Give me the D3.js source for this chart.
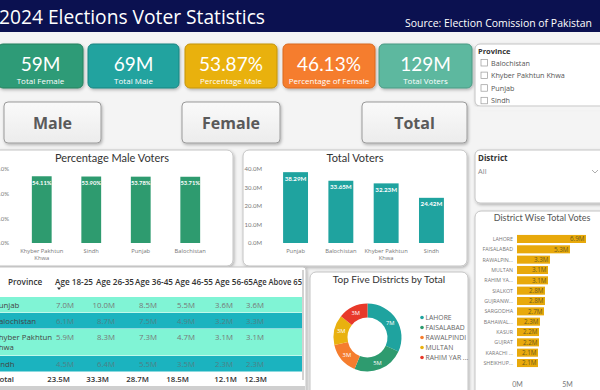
<!DOCTYPE html>
<html><head><meta charset="utf-8">
<script src="https://cdn.jsdelivr.net/npm/d3@7"></script>
<style>
html,body{margin:0;padding:0;background:#f4f4f4;overflow:hidden}
svg{display:block}
</style></head><body>
<svg id="c" width="600" height="390"></svg>
<script>
// ---------------- DATA ----------------
const kpiValues = [59, 69, 53.87, 46.13, 129];
const kpiUnits = ["M", "M", "%", "%", "M"];
const kpiLabels = ["Total Female", "Total Male", "Percentage Male", "Percentage of Female", "Total Voters"];
const buttonLabels = ["Male", "Female", "Total"];
const provinceOptions = ["Balochistan", "Khyber Pakhtun Khwa", "Punjab", "Sindh"];

const pctMaleProvinces = ["Khyber Pakhtun Khwa", "Sindh", "Punjab", "Balochistan"];
const pctMaleValues = [54.11, 53.90, 53.78, 53.71];
const pctTicks = [0, 20, 40, 60];

const totalProvinces = ["Punjab", "Balochistan", "Khyber Pakhtun Khwa", "Sindh"];
const totalValues = [38.29, 33.65, 32.23, 24.42];
const totalTicks = [0, 10, 20, 30, 40];

const districts = ["LAHORE", "FAISALABAD", "RAWALPIN...", "MULTAN", "RAHIM YA...", "SIALKOT", "GUJRANW...", "SARGODHA", "BAHAWAL...", "KASUR", "GUJRAT", "KARACHI ...", "SHEIKHUP..."];
const districtValues = [6.9, 5.3, 3.3, 3.1, 3.1, 2.8, 2.8, 2.7, 2.3, 2.2, 2.2, 2.1, 2.1];
const districtTicks = [0, 5];

const ageGroups = ["Age 18-25", "Age 26-35", "Age 36-45", "Age 46-55", "Age 56-65", "Age Above 65"];
const tableProvinces = ["Punjab", "Balochistan", "Khyber Pakhtun Khwa", "Sindh"];
const punjabAges = [7.0, 10.0, 8.5, 5.5, 3.6, 3.6];
const balochistanAges = [6.1, 8.7, 7.5, 4.9, 3.2, 3.3];
const kpkAges = [5.9, 8.3, 7.3, 4.7, 3.1, 3.1];
const sindhAges = [4.5, 6.4, 5.5, 3.5, 2.3, 2.3];
const totalAges = [23.5, 33.3, 28.7, 18.5, 12.1, 12.3];

const topFiveDistricts = ["LAHORE", "FAISALABAD", "RAWALPINDI", "MULTAN", "RAHIM YAR ..."];
const topFiveValues = [6.9, 5.3, 3.3, 3.1, 3.1];

// ---------------- STYLE ----------------
const SEGOE = "'Open Sans', 'Noto Sans', sans-serif";
const DIN = "Lato, 'DejaVu Sans Condensed', sans-serif";
const svg = d3.select("#c");
const defs = svg.append("defs");
const f = defs.append("filter").attr("id", "sh").attr("x", "-10%").attr("y", "-10%").attr("width", "125%").attr("height", "130%");
f.append("feDropShadow").attr("dx", 1).attr("dy", 1.5).attr("stdDeviation", 1.4).attr("flood-color", "#000").attr("flood-opacity", 0.28);
const bg = defs.append("linearGradient").attr("id", "btn").attr("x1", 0).attr("y1", 0).attr("x2", 0).attr("y2", 1);
bg.append("stop").attr("offset", "0%").attr("stop-color", "#fafafa");
bg.append("stop").attr("offset", "100%").attr("stop-color", "#ececec");

svg.append("rect").attr("width", 600).attr("height", 390).attr("fill", "#f4f4f4");

function panel(x, y, w, h, rx = 6) {
  return svg.append("rect").attr("x", x).attr("y", y).attr("width", w).attr("height", h)
    .attr("rx", rx).attr("fill", "#fff").attr("stroke", "#c4c4c4").attr("stroke-width", 1)
    .attr("filter", "url(#sh)");
}
function wrapLabel(s) {
  if (s.length <= 12) return [s];
  const w = s.split(" ");
  return [w.slice(0, -1).join(" "), w[w.length - 1]];
}

// ---------------- HEADER ----------------
svg.append("rect").attr("x", 0).attr("y", 0).attr("width", 600).attr("height", 32).attr("fill", "#0b1150");
svg.append("text").attr("x", -1).attr("y", 24).attr("fill", "#fff")
  .style("font", `20px ${SEGOE}`).attr("textLength", 266).attr("lengthAdjust", "spacingAndGlyphs")
  .text("2024 Elections Voter Statistics");
svg.append("text").attr("x", 405).attr("y", 27).attr("fill", "#fff")
  .style("font", `11.5px ${SEGOE}`).attr("textLength", 187).attr("lengthAdjust", "spacingAndGlyphs")
  .text("Source: Election Comission of Pakistan");

// ---------------- KPI CARDS ----------------
const kpiX = [-2, 88, 185, 283, 379];
const kpiW = [85, 91, 92, 92, 93];
const kpiColors = ["#2f9b77", "#22a39f", "#e9b10f", "#f57d2e", "#5db89f"];
const kpiStroke = ["#26805f", "#1b8581", "#c4940a", "#d96a22", "#4b9a84"];
kpiValues.forEach((v, i) => {
  svg.append("rect").attr("x", kpiX[i]).attr("y", 44).attr("width", kpiW[i]).attr("height", 44).attr("rx", 5)
    .attr("fill", kpiColors[i]).attr("stroke", kpiStroke[i]).attr("filter", "url(#sh)");
  const cx = kpiX[i] + kpiW[i] / 2;
  const txt = kpiUnits[i] === "%" ? d3.format(".2f")(v) + "%" : d3.format("d")(v) + "M";
  svg.append("text").attr("x", cx).attr("y", 71).attr("text-anchor", "middle").attr("fill", "#fff")
    .style("font", `19px ${DIN}`).text(txt);
  svg.append("text").attr("x", cx).attr("y", 84).attr("text-anchor", "middle").attr("fill", "#fff")
    .style("font", `8px ${SEGOE}`).text(kpiLabels[i]);
});

// ---------------- PROVINCE SLICER ----------------
panel(475, 44, 135, 62, 5);
svg.append("text").attr("x", 478).attr("y", 54).attr("fill", "#333").style("font", `bold 7.5px ${SEGOE}`).text("Province");
provinceOptions.forEach((p, i) => {
  const y = 63 + i * 12.6;
  svg.append("rect").attr("x", 481).attr("y", y - 3.5).attr("width", 6.5).attr("height", 6.5)
    .attr("fill", "#fff").attr("stroke", "#999").attr("stroke-width", 0.7);
  svg.append("text").attr("x", 491).attr("y", y + 2.5).attr("fill", "#555").style("font", `7.2px ${SEGOE}`).text(p);
});
svg.append("rect").attr("x", 474).attr("y", 106.5).attr("width", 130).attr("height", 4).attr("fill", "#f4f4f4");

// ---------------- BUTTONS ----------------
const btnX = [4, 182, 362], btnW = [97, 98, 105];
buttonLabels.forEach((b, i) => {
  svg.append("rect").attr("x", btnX[i]).attr("y", 102).attr("width", btnW[i]).attr("height", 41).attr("rx", 4)
    .attr("fill", "url(#btn)").attr("stroke", "#9a9a9a").attr("filter", "url(#sh)");
  svg.append("text").attr("x", btnX[i] + btnW[i] / 2).attr("y", 128.5).attr("text-anchor", "middle")
    .attr("fill", "#5a5a5a").style("font", `bold 16px ${SEGOE}`).text(b);
});

// ---------------- PERCENTAGE MALE VOTERS ----------------
panel(-6, 150, 239, 116);
svg.append("text").attr("x", 112).attr("y", 162).attr("text-anchor", "middle").attr("fill", "#333")
  .style("font", `11px ${DIN}`).text("Percentage Male Voters");
{
  const x = d3.scaleBand().domain(pctMaleProvinces).range([17, 215]).paddingInner(0.6).paddingOuter(0.3);
  const y = d3.scaleLinear().domain([0, 60]).range([243, 169]);
  const ax = svg.append("g").attr("transform", "translate(9,0)")
    .call(d3.axisLeft(y).tickValues(pctTicks).tickFormat(t => d3.format(".1f")(t) + "%").tickSize(0));
  ax.select(".domain").remove();
  ax.selectAll("text").attr("fill", "#777").style("font", `6px ${DIN}`).attr("x", 0);
  svg.selectAll(".pbar").data(pctMaleValues).join("rect").attr("class", "pbar")
    .attr("x", (d, i) => x(pctMaleProvinces[i])).attr("width", x.bandwidth())
    .attr("y", d => y(d)).attr("height", d => y(0) - y(d)).attr("fill", "#2e9b6f");
  svg.selectAll(".plab").data(pctMaleValues).join("text").attr("class", "plab")
    .attr("x", (d, i) => x(pctMaleProvinces[i]) + x.bandwidth() / 2).attr("y", d => y(d) + 8.5)
    .attr("text-anchor", "middle").attr("fill", "#fff").style("font", `bold 5.8px ${DIN}`)
    .text(d => d3.format(".2f")(d) + "%");
  pctMaleProvinces.forEach(p => {
    wrapLabel(p).forEach((l, j) => {
      svg.append("text").attr("x", x(p) + x.bandwidth() / 2).attr("y", 253 + j * 7).attr("text-anchor", "middle")
        .attr("fill", "#777").style("font", `5.8px ${SEGOE}`).text(l);
    });
  });
}

// ---------------- TOTAL VOTERS ----------------
panel(243, 150, 224, 116);
svg.append("text").attr("x", 355).attr("y", 161.5).attr("text-anchor", "middle").attr("fill", "#333")
  .style("font", `11px ${DIN}`).text("Total Voters");
{
  const x = d3.scaleBand().domain(totalProvinces).range([269.5, 457.5]).paddingInner(0.45).paddingOuter(0.3);
  const y = d3.scaleLinear().domain([0, 40]).range([243, 169]);
  const ax = svg.append("g").attr("transform", "translate(262,0)")
    .call(d3.axisLeft(y).tickValues(totalTicks).tickFormat(t => d3.format(".1f")(t) + "M").tickSize(0));
  ax.select(".domain").remove();
  ax.selectAll("text").attr("fill", "#777").style("font", `6px ${DIN}`).attr("x", 0);
  svg.selectAll(".tbar").data(totalValues).join("rect").attr("class", "tbar")
    .attr("x", (d, i) => x(totalProvinces[i])).attr("width", x.bandwidth())
    .attr("y", d => y(d)).attr("height", d => y(0) - y(d)).attr("fill", "#1fa39f");
  svg.selectAll(".tlab").data(totalValues).join("text").attr("class", "tlab")
    .attr("x", (d, i) => x(totalProvinces[i]) + x.bandwidth() / 2).attr("y", d => y(d) + 8.5)
    .attr("text-anchor", "middle").attr("fill", "#fff").style("font", `bold 6.2px ${DIN}`)
    .text(d => d3.format(".2f")(d) + "M");
  totalProvinces.forEach(p => {
    wrapLabel(p).forEach((l, j) => {
      svg.append("text").attr("x", x(p) + x.bandwidth() / 2).attr("y", 253 + j * 7).attr("text-anchor", "middle")
        .attr("fill", "#777").style("font", `5.8px ${SEGOE}`).text(l);
    });
  });
}

// ---------------- DISTRICT SLICER ----------------
panel(475, 150, 135, 53, 5);
svg.append("text").attr("x", 478).attr("y", 161).attr("fill", "#333").style("font", `bold 8px ${SEGOE}`).text("District");
svg.append("text").attr("x", 478).attr("y", 174).attr("fill", "#888").style("font", `7.5px ${SEGOE}`).text("All");
svg.append("path").attr("d", "M592,170 L595,173 L598,170").attr("fill", "none").attr("stroke", "#999").attr("stroke-width", 0.8);

// ---------------- DISTRICT WISE TOTAL VOTES ----------------
panel(475, 211, 135, 190);
svg.append("text").attr("x", 542).attr("y", 221).attr("text-anchor", "middle").attr("fill", "#555")
  .style("font", `9px ${DIN}`).text("District Wise Total Votes");
{
  const x = d3.scaleLinear().domain([0, 5]).range([517, 567]);
  const y = d3.scaleBand().domain(districts).range([233.8, 368.2]).paddingInner(0.22).paddingOuter(0.11);
  svg.selectAll(".dbar").data(districtValues).join("rect").attr("class", "dbar")
    .attr("x", x(0)).attr("y", (d, i) => y(districts[i])).attr("height", y.bandwidth())
    .attr("width", d => x(d) - x(0)).attr("fill", "#e8a90b");
  svg.selectAll(".dlab").data(districtValues).join("text").attr("class", "dlab")
    .attr("x", d => x(d) - 1.5).attr("y", (d, i) => y(districts[i]) + y.bandwidth() / 2 + 2.2)
    .attr("text-anchor", "end").attr("fill", "#6b5a1e").style("font", `6.3px ${SEGOE}`)
    .text(d => d3.format(".1f")(d) + "M");
  svg.selectAll(".dcat").data(districts).join("text").attr("class", "dcat")
    .attr("x", 513).attr("y", d => y(d) + y.bandwidth() / 2 + 2)
    .attr("text-anchor", "end").attr("fill", "#777").style("font", `5.3px ${SEGOE}`).text(d => d);
  const ax = svg.append("g").attr("transform", "translate(0,376)")
    .call(d3.axisBottom(x).tickValues(districtTicks).tickFormat(t => t + "M").tickSize(0));
  ax.select(".domain").remove();
  ax.selectAll("text").attr("fill", "#777").style("font", `7px ${DIN}`).attr("y", 6);
}

// ---------------- TABLE ----------------
panel(-6, 267, 312, 130, 3);
{
  const g = svg.append("g");
  g.append("text").attr("x", 8).attr("y", 285).attr("fill", "#333").style("font", `600 8.2px ${SEGOE}`).text("Province");
  const headX = [55, 96, 135, 175, 215, 253];
  ageGroups.forEach((a, i) => {
    g.append("text").attr("x", headX[i]).attr("y", 285).attr("fill", "#333")
      .style("font", `600 8.2px ${SEGOE}`).attr("textLength", i === 5 ? 49 : 38).attr("lengthAdjust", "spacingAndGlyphs").text(a);
  });
  g.append("path").attr("d", "M57,287.5 L61,287.5 L59,290 Z").attr("fill", "#333");
  const rows = [punjabAges, balochistanAges, kpkAges, sindhAges];
  const rowTop = [297, 313, 329, 356], rowH = [15.5, 15.5, 26.5, 15.5];
  const rowFill = ["#80f4d5", "#1bb3bf", "#80f4d5", "#1bb3bf"];
  const valColor = ["#777", "#4f7f86", "#777", "#4f7f86"];
  const valRight = [74, 115, 157, 195, 233, 264];
  const totRight = [70, 109, 149, 189, 237, 267];
  rows.forEach((r, i) => {
    g.append("rect").attr("x", -5).attr("y", rowTop[i]).attr("width", 307).attr("height", rowH[i]).attr("fill", rowFill[i]);
    wrapLabel(tableProvinces[i]).forEach((l, j) => {
      g.append("text").attr("x", -6).attr("y", rowTop[i] + 10.5 + j * 10).attr("fill", "#444")
        .style("font", `7.8px ${SEGOE}`).text(l);
    });
    r.forEach((v, k) => {
      g.append("text").attr("x", valRight[k]).attr("y", rowTop[i] + 10.5).attr("text-anchor", "end")
        .attr("fill", valColor[i]).style("font", `7.8px ${SEGOE}`).text(d3.format(".1f")(v) + "M");
    });
  });
  g.append("text").attr("x", -5).attr("y", 382).attr("fill", "#333").style("font", `600 7.8px ${SEGOE}`).text("Total");
  totalAges.forEach((v, k) => {
    g.append("text").attr("x", totRight[k]).attr("y", 382).attr("text-anchor", "end")
      .attr("fill", "#333").style("font", `600 7.8px ${SEGOE}`).text(d3.format(".1f")(v) + "M");
  });
  g.append("rect").attr("x", 302).attr("y", 270).attr("width", 2).attr("height", 110).attr("fill", "#d2d2d2");
  g.append("rect").attr("x", 0).attr("y", 386).attr("width", 305).attr("height", 4).attr("fill", "#cfcfcf");
}

// ---------------- DONUT ----------------
panel(310, 272, 158, 125);
svg.append("text").attr("x", 389).attr("y", 282.5).attr("text-anchor", "middle").attr("fill", "#333")
  .style("font", `10px ${DIN}`).text("Top Five Districts by Total");
{
  const colors = d3.scaleOrdinal().domain(topFiveDistricts).range(["#1fa39f", "#2e9b6f", "#f57d2e", "#e9b10f", "#e8392a"]);
  const pie = d3.pie().sort(null).value(d => d.v);
  const arc = d3.arc().innerRadius(20).outerRadius(34);
  const lab = d3.arc().innerRadius(27).outerRadius(27);
  const data = pie(topFiveDistricts.map((n, i) => ({ n, v: topFiveValues[i] })));
  const g = svg.append("g").attr("transform", "translate(367.5,337.5)");
  g.selectAll("path").data(data).join("path").attr("d", arc).attr("fill", d => colors(d.data.n));
  g.selectAll("text").data(data).join("text").attr("transform", d => `translate(${lab.centroid(d)})`)
    .attr("dy", 2).attr("text-anchor", "middle").attr("fill", "#fff").style("font", `5.8px ${SEGOE}`)
    .text(d => d3.format(".0f")(d.data.v) + "M");
  topFiveDistricts.forEach((n, i) => {
    const y = 317.5 + i * 10;
    svg.append("circle").attr("cx", 422).attr("cy", y).attr("r", 1.8).attr("fill", colors(n));
    svg.append("text").attr("x", 425.5).attr("y", y + 2.4).attr("fill", "#666").style("font", `6.8px ${SEGOE}`).text(n);
  });
}
</script>
</body></html>
